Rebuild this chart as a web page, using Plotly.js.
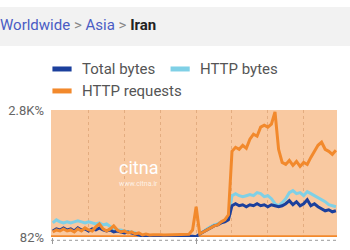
<!DOCTYPE html>
<html>
<head>
<meta charset="utf-8">
<script src="https://cdn.plot.ly/plotly-3.0.1.min.js"></script>
<style>html,body{margin:0;padding:0;background:#fff;}#chart{width:350px;height:250px;}</style>
</head>
<body>
<div id="chart"></div>
<script>
// time axis (days)
const days = [0.0,0.1,0.2,0.3,0.4,0.5,0.6,0.7,0.8,0.9,
  1.0,1.1,1.2,1.3,1.4,1.5,1.6,1.7,1.8,1.9,
  2.0,2.1,2.2,2.3,2.4,2.5,2.6,2.7,2.8,2.9,
  3.0,3.1,3.2,3.3,3.4,3.5,3.6,3.7,3.8,3.9,
  4.0,4.1,4.2,4.3,4.4,4.5,4.6,4.7,4.8,4.9,
  5.0,5.1,5.2,5.3,5.4,5.5,5.6,5.7,5.8,5.9,
  6.0,6.1,6.2,6.3,6.4,6.5,6.6,6.7,6.8,6.9,
  7.0,7.1,7.2,7.3,7.4,7.5,7.6,7.7,7.8,7.9];

// HTTP requests (%)
const httpRequests = [190,233,211,255,211,233,190,255,211,276,
  233,211,298,362,255,211,255,319,233,190,
  211,168,190,147,168,125,147,125,130,122,
  128,124,126,122,127,124,125,128,140,230,
  730,147,190,233,276,319,341,406,449,557,
  1915,2002,1959,2045,1980,2174,2282,2239,2433,2476,
  2433,2498,2757,1959,1678,1635,1721,1613,1700,1592,
  1678,1635,1786,1915,2045,2110,1959,1915,1851,1937];

// HTTP bytes (%)
const httpBytes = [384,449,406,384,406,384,406,427,406,384,
  406,384,362,384,341,362,298,255,233,233,
  211,190,190,168,125,104,100,98,102,97,
  100,96,99,101,97,100,98,102,100,104,
  86,147,211,255,298,341,362,406,427,470,
  966,1010,966,945,966,988,966,1031,1010,945,
  966,902,794,751,816,902,1031,1074,1010,1031,
  966,1053,1010,966,923,880,837,772,751,730];

// Total bytes (%)
const totalBytes = [211,255,233,276,233,255,211,276,233,255,
  211,255,233,276,233,211,233,190,211,190,
  168,190,168,147,125,104,98,95,97,94,
  96,93,95,97,94,96,95,97,96,98,
  90,147,190,233,276,319,341,384,406,449,
  751,794,751,772,730,772,751,794,751,772,
  730,772,751,730,751,794,859,772,837,751,
  794,880,751,794,730,686,643,664,621,643];

const seriesNames = ['Total bytes', 'HTTP bytes', 'HTTP requests'];
const yTickVals = [82, 2800];
const yTickText = ['82%', '2.8K%'];
const baseline = 100;
const xTickVals = [0, 4];
const gridDays = [1, 2, 3, 4, 5, 6, 7];

const cDark = '#1b3f9c', cLight = '#7fd0e6', cOrange = '#f2892c';

const traces = [
  {x: days, y: httpBytes, name: seriesNames[1], type: 'scatter', mode: 'lines',
   line: {color: cLight, width: 3}},
  {x: days, y: totalBytes, name: seriesNames[0], type: 'scatter', mode: 'lines',
   line: {color: cDark, width: 3}},
  {x: days, y: httpRequests, name: seriesNames[2], type: 'scatter', mode: 'lines',
   line: {color: cOrange, width: 3}}
];

const legendFont = {family: 'Roboto, sans-serif', size: 15, color: '#555'};

const layout = {
  width: 350, height: 250,
  margin: {l: 51, r: 13, t: 110, b: 13},
  paper_bgcolor: '#ffffff',
  plot_bgcolor: '#f9c9a1',
  showlegend: false,
  font: {family: 'Roboto, sans-serif'},
  xaxis: {
    range: [-0.05, 7.93], tickvals: xTickVals, ticks: 'outside', ticklen: 6,
    tickcolor: '#9a9a9a', showticklabels: false, showgrid: false, zeroline: false,
    showline: false, fixedrange: true,
    minor: {tickmode: 'array', tickvals: gridDays, showgrid: true,
      gridcolor: 'rgba(196,130,80,0.4)', griddash: 'dot', gridwidth: 1, ticks: ''}
  },
  yaxis: {
    range: [82, 2800], tickvals: yTickVals, ticktext: yTickText,
    showgrid: false, zeroline: false, showline: false, ticks: '',
    tickfont: {size: 13, color: '#666'}, ticklabelstandoff: 6, fixedrange: true
  },
  shapes: [
    // header band
    {type: 'rect', xref: 'paper', yref: 'paper', x0: -0.3, x1: 1.2, y0: 1.504, y1: 1.811,
     fillcolor: '#f2f2f2', line: {width: 0}, layer: 'below'},
    // 100% reference line
    {type: 'line', xref: 'paper', yref: 'y', x0: 0, x1: 1, y0: baseline, y1: baseline,
     line: {color: cOrange, width: 2}, layer: 'between'},
    // dotted axis line
    {type: 'line', xref: 'paper', yref: 'paper', x0: 0, x1: 1, y0: -0.026, y1: -0.026,
     line: {color: '#9a9a9a', width: 1, dash: 'dot'}},
    // legend swatches
    {type: 'line', xref: 'paper', yref: 'paper', x0: 0.005, x1: 0.072, y0: 1.323, y1: 1.323,
     line: {color: cDark, width: 5}},
    {type: 'line', xref: 'paper', yref: 'paper', x0: 0.418, x1: 0.485, y0: 1.323, y1: 1.323,
     line: {color: cLight, width: 5}},
    {type: 'line', xref: 'paper', yref: 'paper', x0: 0.005, x1: 0.072, y0: 1.150, y1: 1.150,
     line: {color: cOrange, width: 5}}
  ],
  annotations: [
    {xref: 'paper', yref: 'paper', x: -0.185, y: 1.673, xanchor: 'left', yanchor: 'middle',
     showarrow: false, font: {family: 'Roboto, sans-serif', size: 15, color: '#4a5cc4'},
     text: 'Worldwide <span style="color:#888">&gt;</span> Asia <span style="color:#888">&gt;</span> <b><span style="color:#222">Iran</span></b>'},
    {xref: 'paper', yref: 'paper', x: 0.101, y: 1.323, xanchor: 'left', yanchor: 'middle',
     showarrow: false, font: legendFont, text: seriesNames[0]},
    {xref: 'paper', yref: 'paper', x: 0.514, y: 1.323, xanchor: 'left', yanchor: 'middle',
     showarrow: false, font: legendFont, text: seriesNames[1]},
    {xref: 'paper', yref: 'paper', x: 0.101, y: 1.150, xanchor: 'left', yanchor: 'middle',
     showarrow: false, font: legendFont, text: seriesNames[2]},
    // watermark
    {xref: 'paper', yref: 'paper', x: 0.305, y: 0.545, xanchor: 'center', yanchor: 'middle',
     showarrow: false, font: {family: 'Roboto, sans-serif', size: 18, color: '#ffffff'}, text: 'citna'},
    {xref: 'paper', yref: 'paper', x: 0.305, y: 0.415, xanchor: 'center', yanchor: 'middle',
     showarrow: false, font: {family: 'Roboto, sans-serif', size: 7, color: 'rgba(255,255,255,0.75)'}, text: 'www.citna.ir'}
  ]
};

Plotly.newPlot('chart', traces, layout, {displayModeBar: false, staticPlot: true});
</script>
</body>
</html>
